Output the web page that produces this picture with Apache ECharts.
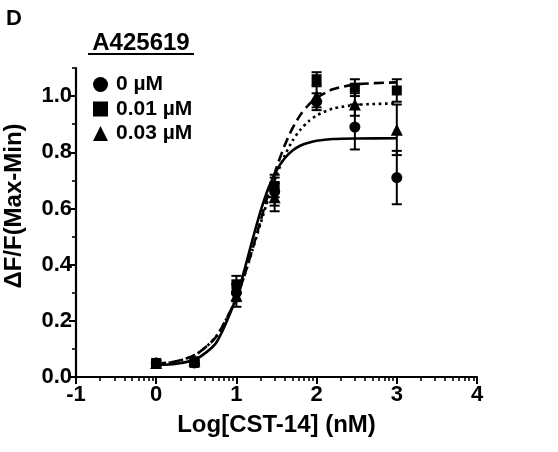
<!DOCTYPE html>
<html>
<head>
<meta charset="utf-8">
<script src="https://cdn.jsdelivr.net/npm/echarts@6/dist/echarts.min.js"></script>
<style>html,body{margin:0;padding:0;background:#fff}#c{width:558px;height:452px}</style>
</head>
<body>
<div id="c"></div>
<script>
// ---- data ----
var logConc = [0, 0.477, 1, 1.477, 2, 2.477, 3];
var seriesNames = ['0 µM', '0.01 µM', '0.03 µM'];
var mean0 = [0.05, 0.05, 0.30, 0.66, 0.98, 0.89, 0.71];
var err0  = [0.01, 0.01, 0.03, 0.05, 0.03, 0.08, 0.095];
var mean1 = [0.05, 0.05, 0.33, 0.68, 1.06, 1.03, 1.02];
var err1  = [0.01, 0.01, 0.03, 0.04, 0.025, 0.03, 0.04];
var mean2 = [0.05, 0.06, 0.29, 0.64, 1.00, 0.97, 0.88];
var err2  = [0.01, 0.01, 0.04, 0.05, 0.04, 0.04, 0.09];
// fitted curves
var fitX  = [0, 0.25, 0.5, 0.75, 1.0, 1.1, 1.2, 1.3, 1.4, 1.5, 1.6, 1.7, 1.8, 1.9, 2.0, 2.2, 2.5, 3.0];
var fit0Y = [0.042, 0.047, 0.064, 0.123, 0.283, 0.381, 0.488, 0.589, 0.673, 0.735, 0.778, 0.806, 0.824, 0.834, 0.841, 0.847, 0.849, 0.850];
var fit1Y = [0.046, 0.056, 0.081, 0.144, 0.281, 0.362, 0.455, 0.555, 0.654, 0.745, 0.823, 0.886, 0.934, 0.969, 0.994, 1.024, 1.042, 1.049];
var fit2Y = [0.046, 0.055, 0.081, 0.145, 0.280, 0.361, 0.451, 0.545, 0.637, 0.718, 0.787, 0.841, 0.881, 0.910, 0.931, 0.955, 0.969, 0.974];
var xTicks = [-1, 0, 1, 2, 3, 4];
var yTicks = [0, 0.2, 0.4, 0.6, 0.8, 1.0];
var yMinorTicks = [0.1, 0.3, 0.5, 0.7, 0.9, 1.1];
var xMinorSteps = [2, 3, 4, 5, 6, 7, 8, 9];

var FONT = 'Liberation Sans, Arial, sans-serif';
var xMinorTicks = [];
for (var d = -1; d < 4; d++) {
  xMinorSteps.forEach(function (k) { xMinorTicks.push(d + Math.log10(k)); });
}
function pairs(xs, ys) { return xs.map(function (x, i) { return [x, ys[i]]; }); }
function errData(m, e) { return logConc.map(function (x, i) { return [x, m[i] - e[i], m[i] + e[i]]; }); }

function errSeries(m, e) {
  return {
    type: 'custom', xAxisIndex: 0, yAxisIndex: 0, z: 3, silent: true,
    data: errData(m, e),
    renderItem: function (params, api) {
      var x = api.value(0);
      var lo = api.coord([x, api.value(1)]);
      var hi = api.coord([x, api.value(2)]);
      var w = 5;
      var st = { stroke: '#000', lineWidth: 2 };
      return { type: 'group', children: [
        { type: 'line', shape: { x1: lo[0], y1: lo[1], x2: hi[0], y2: hi[1] }, style: st },
        { type: 'line', shape: { x1: lo[0] - w, y1: lo[1], x2: lo[0] + w, y2: lo[1] }, style: st },
        { type: 'line', shape: { x1: hi[0] - w, y1: hi[1], x2: hi[0] + w, y2: hi[1] }, style: st }
      ]};
    }
  };
}
function curve(ys, type) {
  return { type: 'line', data: pairs(fitX, ys), smooth: 0.25, showSymbol: false, silent: true, z: 2,
    lineStyle: { color: '#000', width: 2.6, type: type, cap: 'butt' } };
}
function pts(name, m, sym, size) {
  return { name: name, type: 'scatter', data: pairs(logConc, m), symbol: sym, symbolSize: size, z: 4,
    itemStyle: { color: '#000', opacity: 1 } };
}

var chart = echarts.init(document.getElementById('c'), null, { renderer: 'canvas' });
chart.setOption({
  animation: false,
  backgroundColor: '#fff',
  grid: { left: 76, right: 81, top: 68, bottom: 75, containLabel: false },
  xAxis: [{
    type: 'value', min: -1, max: 4, interval: 1,
    name: 'Log[CST-14] (nM)', nameLocation: 'middle', nameGap: 36,
    nameTextStyle: { fontFamily: FONT, fontSize: 24, fontWeight: 'bold', color: '#000' },
    axisLine: { onZero: false, lineStyle: { color: '#000', width: 2.2 } },
    axisTick: { show: true, length: 7, lineStyle: { color: '#000', width: 2 }, customValues: xTicks },
    axisLabel: { fontFamily: FONT, fontSize: 22, fontWeight: 'bold', color: '#000', margin: 7, customValues: xTicks },
    splitLine: { show: false }
  }, {
    type: 'value', min: -1, max: 4, position: 'bottom',
    axisLine: { show: false, onZero: false },
    axisTick: { show: true, length: 4, lineStyle: { color: '#000', width: 1.6 }, customValues: xMinorTicks },
    axisLabel: { show: false },
    splitLine: { show: false }
  }],
  yAxis: [{
    type: 'value', min: 0, max: 1.1,
    axisLine: { show: true, onZero: false, lineStyle: { color: '#000', width: 2.2 } },
    axisTick: { show: true, length: 7, lineStyle: { color: '#000', width: 2 }, customValues: yTicks },
    axisLabel: { fontFamily: FONT, fontSize: 22, fontWeight: 'bold', color: '#000', margin: 4,
      customValues: yTicks, formatter: function (v) { return v.toFixed(1); } },
    splitLine: { show: false }
  }, {
    type: 'value', min: 0, max: 1.1, position: 'left',
    axisLine: { show: false, onZero: false },
    axisTick: { show: true, length: 4, lineStyle: { color: '#000', width: 1.6 }, customValues: yMinorTicks },
    axisLabel: { show: false },
    splitLine: { show: false }
  }],
  legend: {
    orient: 'vertical', left: 88, top: 69, itemWidth: 15, itemHeight: 15, itemGap: 3.5,
    data: seriesNames,
    textStyle: { fontFamily: FONT, fontSize: 21, fontWeight: 'bold', color: '#000', lineHeight: 21, padding: [0, 0, 0, 3] },
    selectedMode: false
  },
  graphic: [
    { type: 'text', left: 6, top: 8, style: { text: 'D', font: 'bold 22px ' + FONT, fill: '#000' } },
    { type: 'text', x: 141, y: 43, style: { text: 'A425619', font: 'bold 24px ' + FONT, fill: '#000', textAlign: 'center', textVerticalAlign: 'middle' } },
    { type: 'rect', shape: { x: 88, y: 53, width: 106, height: 2 }, style: { fill: '#000' } },
    { type: 'text', x: 14, y: 206, rotation: Math.PI / 2, style: { text: 'ΔF/F(Max-Min)', font: 'bold 24px ' + FONT, fill: '#000', textAlign: 'center', textVerticalAlign: 'middle' } }
  ],
  series: [
    curve(fit0Y, 'solid'),
    curve(fit1Y, [10, 5]),
    curve(fit2Y, [2.6, 3.6]),
    errSeries(mean0, err0),
    errSeries(mean1, err1),
    errSeries(mean2, err2),
    pts(seriesNames[0], mean0, 'circle', 11),
    pts(seriesNames[1], mean1, 'rect', 10),
    pts(seriesNames[2], mean2, 'triangle', 12)
  ]
});
</script>
</body>
</html>
